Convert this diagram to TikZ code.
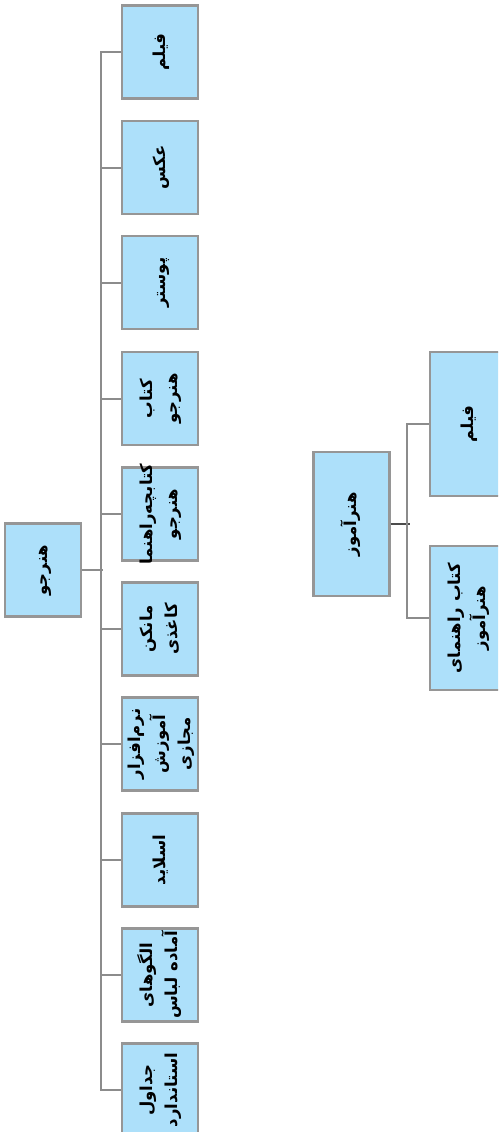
\documentclass[tikz,border=0pt]{standalone}
\usepackage{fontspec}
\newfontfamily\fafont[Script=Arabic]{DejaVu Sans}
\TeXXeTstate=1
\definecolor{boxblue}{RGB}{173,224,250}
\definecolor{boxgray}{RGB}{150,150,150}
\definecolor{linegray}{RGB}{140,140,140}
\newcommand{\fa}[1]{\rotatebox{90}{\begin{tabular}{@{}c@{}}#1\end{tabular}}}
% text that runs over the box edge without growing the box
\newcommand{\faover}[1]{\raisebox{0pt}[0pt][0pt]{\raisebox{-.5\height}{\fa{#1}}}}
\newcommand{\rl}[1]{\beginR #1\endR}

\begin{document}
\begin{tikzpicture}[x=1pt,y=-1pt]

    \tikzset{
      box/.style={
        draw=boxgray,
        fill=boxblue,
        line width=2.2pt,
        inner sep=0pt,
        minimum width=76pt,
        minimum height=93pt,
        font=\fafont\bfseries\fontsize{16.5}{25}\selectfont,
      },
      tallbox/.style={
        box,
        minimum height=144pt,
      },
      link/.style={
        color=linegray,
        line width=2pt,
      },
    }
    \useasboundingbox (0,0) rectangle (498,1132);
    \clip (0,0) rectangle (498,1132);

	% first tree
	\node[box] (hj) at (43,570) {\fa{\rl{هنرجو}}};
	\node[box] (film) at (160,52) {\fa{\rl{فیلم}}};
	\node[box] (aks) at (160,167.5) {\fa{\rl{عکس}}};
	\node[box] (poster) at (160,282.5) {\fa{\rl{پوستر}}};
	\node[box] (ketab) at (160,398.5) {\fa{\rl{کتاب}\\\rl{هنرجو}}};
	\node[box] (rahnama) at (160,514) {\faover{\rl{کتابچه‌راهنما}\\\rl{هنرجو}}};
	\node[box] (manken) at (160,629) {\fa{\rl{مانکن}\\\rl{کاغذی}}};
	\node[box] (narmafzar) at (160,744) {\fa{\rl{نرم‌افزار}\\\rl{آموزش}\\\rl{مجازی}}};
	\node[box] (slide) at (160,860) {\fa{\rl{اسلاید}}};
	\node[box] (olgoo) at (160,975) {\fa{\rl{الگوهای}\\\rl{آماده لباس}}};
	\node[box] (jadaval) at (160,1090) {\fa{\rl{جداول}\\\rl{استاندارد}}};

	\draw[link] (hj.east) -- ++(21,0);
	\draw[link] (film.west) -- ++(-20,0) |- (jadaval.west);
	\draw[link] (aks.west) -- ++(-20,0);
	\draw[link] (poster.west) -- ++(-20,0);
	\draw[link] (ketab.west) -- ++(-20,0);
	\draw[link] (rahnama.west) -- ++(-20,0);
	\draw[link] (manken.west) -- ++(-20,0);
	\draw[link] (narmafzar.west) -- ++(-20,0);
	\draw[link] (slide.west) -- ++(-20,0);
	\draw[link] (olgoo.west) -- ++(-20,0);

	% second tree
	\node[tallbox] (ha) at (351.5,524) {\fa{\rl{هنرآموز}}};
	\node[tallbox] (film2) at (468,424) {\fa{\rl{فیلم}}};
	\node[tallbox] (ketab2) at (468,618) {\fa{\rl{کتاب راهنمای}\\\rl{هنرآموز}}};

	\draw[link,color=black!70] (ha.east) -- ++(19,0);
	\draw[link] (film2.west) -- ++(-22,0) |- (ketab2.west);

\end{tikzpicture}
\end{document}
